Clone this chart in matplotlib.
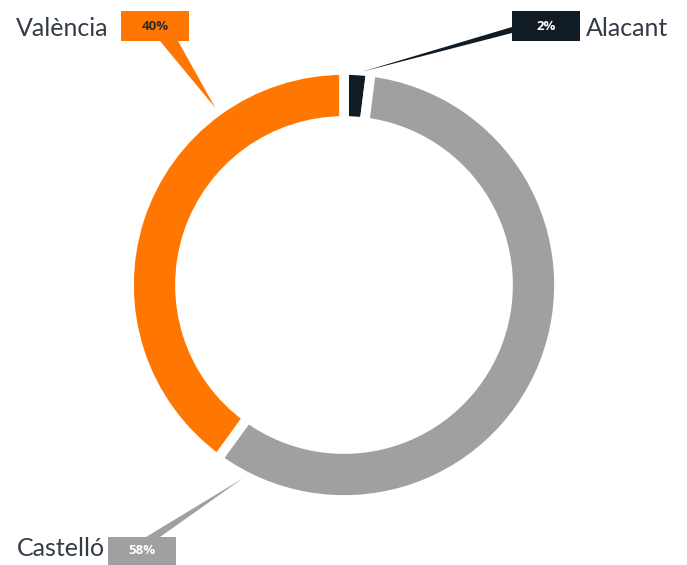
import numpy as np
import matplotlib.pyplot as plt
from matplotlib.patches import Polygon, Rectangle

labels = ["Alacant", "Castelló", "València"]
values = [2, 58, 40]
colors = ["#111b24", "#a0a0a2", "#ff7700"]
pct_colors = ["white", "white", "#2b2b2b"]

W, H = 687, 565
cx, cy = 344, H - 285
radius = 215
ring = 51

fig = plt.figure(figsize=(W / 100, H / 100), dpi=100)
ax = fig.add_axes([0, 0, 1, 1])

wedges, _ = ax.pie(values, colors=colors, startangle=90, counterclock=False,
                   center=(cx, cy), radius=radius,
                   wedgeprops=dict(width=ring, edgecolor="white", linewidth=7))
ax.set_xlim(0, W)
ax.set_ylim(0, H)
ax.set_aspect("equal")
ax.axis("off")

# callout layout: tip angle (deg, clockwise from top), box corner + height, pointer base, label text position
callouts = {
    "València": dict(angle=324, r=219, box=(121, 11, 30), base=((160, 41), (178, 41)), text_x=108, dy=-2, ha="right"),
    "Alacant": dict(angle=4.8, r=214, box=(512, 11, 30), base=((512, 27), (512, 33)), text_x=586, dy=-2, ha="left"),
    "Castelló": dict(angle=207.6, r=218, box=(108, 537, 28), base=((146, 537), (160, 537)), text_x=105, dy=2, ha="right"),
}
bw = 68

for lab, val, col, pc in zip(labels, values, colors, pct_colors):
    c = callouts[lab]
    a = np.deg2rad(c["angle"])
    tip = (cx + c["r"] * np.sin(a), cy + c["r"] * np.cos(a))
    (b1x, b1y), (b2x, b2y) = c["base"]
    ax.add_patch(Polygon([tip, (b1x, H - b1y), (b2x, H - b2y)], closed=True,
                         facecolor=col, edgecolor="none"))
    bx, by, bh = c["box"]
    ax.add_patch(Rectangle((bx, H - by - bh), bw, bh, facecolor=col, edgecolor="none"))
    ax.text(bx + bw / 2, H - by - bh / 2, f"{val}%", ha="center", va="center",
            fontsize=9.5, fontweight="bold", color=pc, family="Open Sans")
    ax.text(c["text_x"], H - by - bh / 2 + c["dy"], lab, ha=c["ha"], va="center",
            fontsize=18, color="#343b46", family="Lato")

fig.savefig("out.png", dpi=100)
